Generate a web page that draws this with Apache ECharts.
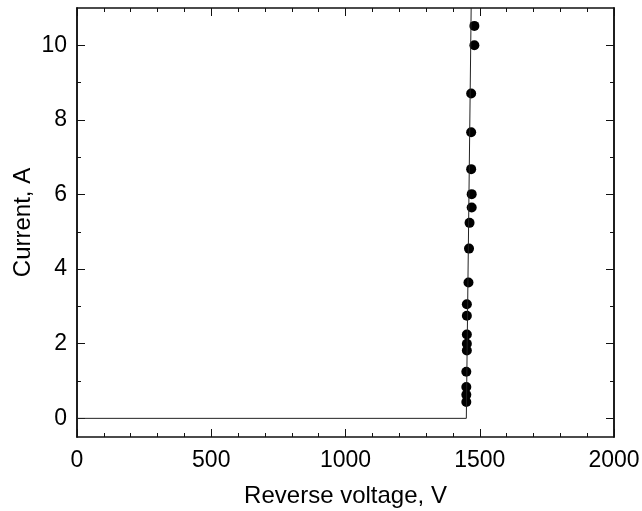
<!DOCTYPE html>
<html>
<head>
<meta charset="utf-8">
<script src="https://cdn.jsdelivr.net/npm/echarts@6/dist/echarts.min.js"></script>
<style>html,body{margin:0;padding:0;background:#fff;}#chart{width:642px;height:511px;}</style>
</head>
<body>
<div id="chart"></div>
<script>
// Measured points
const voltage = [1480, 1480, 1468, 1468, 1468, 1470, 1470, 1462, 1460, 1458, 1452, 1452, 1452, 1452, 1452, 1450, 1450, 1450, 1450];
const current = [10.52, 10.0, 8.71, 7.67, 6.68, 6.01, 5.65, 5.24, 4.55, 3.64, 3.06, 2.75, 2.25, 2.0, 1.82, 1.25, 0.84, 0.63, 0.44];
// Fitted line
const lineVoltage = [0, 1450, 1468];
const lineCurrent = [0, 0, 11];
// Tick values
const xTicks = [0, 500, 1000, 1500, 2000];
const yMajor = [0, 2, 4, 6, 8, 10];
const yMinor = [1, 3, 5, 7, 9];

const FONT = 'Liberation Sans, Arial, Helvetica, sans-serif';
const axisLineStyle = {show: true, onZero: false, lineStyle: {color: '#111', width: 1.5}};

function xAxisCfg(pos, withLabels) {
  return {
    type: 'value', position: pos, min: xTicks[0], max: xTicks[xTicks.length - 1], interval: xTicks[1] - xTicks[0],
    axisLine: axisLineStyle,
    axisTick: {show: true, inside: true, length: 8, lineStyle: {color: '#111', width: 1}},
    minorTick: {show: true, splitNumber: 5, length: 4, lineStyle: {color: '#111', width: 1}},
    axisLabel: {show: withLabels, fontSize: 23, color: '#000', fontFamily: FONT, margin: 12,
      formatter: v => String(v)},
    splitLine: {show: false}, minorSplitLine: {show: false},
    name: withLabels ? 'Reverse voltage, V' : '',
    nameLocation: 'middle', nameGap: 47, nameMoveOverlap: false,
    nameTextStyle: {fontSize: 24, color: '#000', fontFamily: FONT}
  };
}
function yAxisCfg(pos, values, len, withLabels) {
  return {
    type: 'value', position: pos, min: -0.5, max: 11,
    axisLine: axisLineStyle,
    axisTick: {show: true, inside: true, length: len, customValues: values, lineStyle: {color: '#111', width: 1}},
    axisLabel: {show: withLabels, customValues: values, fontSize: 23, color: '#000', fontFamily: FONT, margin: 10,
      formatter: v => String(v)},
    splitLine: {show: false},
    name: withLabels ? 'Current, A' : '',
    nameLocation: 'middle', nameGap: 42, nameRotate: 90, nameMoveOverlap: false,
    nameTextStyle: {fontSize: 24, color: '#000', fontFamily: FONT}
  };
}

const chart = echarts.init(document.getElementById('chart'), null, {renderer: 'canvas'});
chart.setOption({
  animation: false,
  backgroundColor: '#fff',
  grid: {left: 77, right: 28, top: 8, bottom: 74, containLabel: false, outerBoundsMode: 'none'},
  xAxis: [xAxisCfg('bottom', true), xAxisCfg('top', false)],
  yAxis: [
    yAxisCfg('left', yMajor, 8, true),
    yAxisCfg('left', yMinor, 4, false),
    yAxisCfg('right', yMajor, 8, false),
    yAxisCfg('right', yMinor, 4, false)
  ],
  series: [
    {
      type: 'line', xAxisIndex: 0, yAxisIndex: 0, symbol: 'none', clip: true,
      lineStyle: {color: '#222', width: 1},
      data: lineVoltage.map((v, i) => [v, lineCurrent[i]])
    },
    {
      type: 'scatter', xAxisIndex: 0, yAxisIndex: 0, symbol: 'circle', symbolSize: 10,
      itemStyle: {color: '#000', opacity: 1},
      data: voltage.map((v, i) => [v, current[i]])
    }
  ]
});
</script>
</body>
</html>
